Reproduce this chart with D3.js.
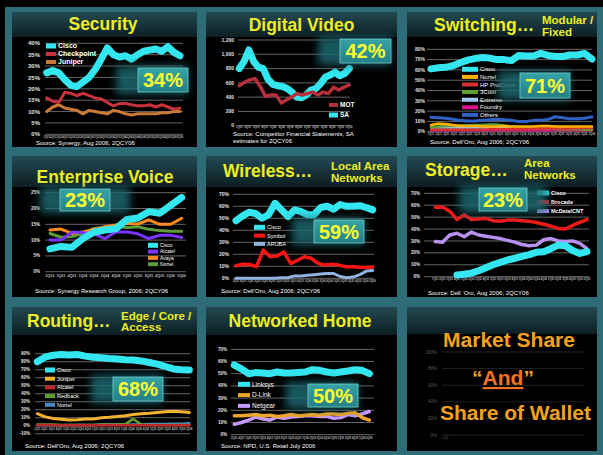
<!DOCTYPE html>
<html lang="en">
<head>
<meta charset="utf-8">
<title>Market share dashboard</title>
<script src="https://d3js.org/d3.v7.min.js"></script>
<style>
  body { margin: 0; background: #000; }
  svg { display: block; font-family: "Liberation Sans", Arial, sans-serif; }
</style>
</head>
<body>
<script>
// ---------- data ----------
var quarters = ["1Q01","2Q01","3Q01","4Q01","1Q02","2Q02","3Q02","4Q02","1Q03","2Q03","3Q03","4Q03",
                "1Q04","2Q04","3Q04","4Q04","1Q05","2Q05","3Q05","4Q05","1Q06","2Q06"]
var voiceQuarters = ["2Q03","3Q03","4Q03","1Q04","2Q04","3Q04","4Q04","1Q05","2Q05","3Q05","4Q05","1Q06","2Q06"]
var pctTicks70 = [0, 10, 20, 30, 40, 50, 60, 70]

// Security
var secCisco = [27, 28, 27, 24, 21.5, 21, 23, 25, 28.5, 33, 38, 35, 34, 34.5, 33, 35, 36.5, 37, 37.5, 36.5, 38.5, 36, 34.5]
var secCheckpoint = [16, 14.5, 14, 18.5, 18, 17, 18, 17, 16, 15.5, 14, 12.5, 13.5, 13.5, 13, 12.5, 12.5, 13, 12, 13, 12, 11, 11.5]
var secJuniper = [10, 12, 13, 11.5, 11, 10.5, 9, 10.5, 10, 9.5, 9, 10.5, 10, 9, 8.5, 9, 9, 9, 9, 9.5, 9.5, 10, 10]

// Digital Video (units)
var dvSA = [800, 900, 1060, 900, 820, 800, 650, 580, 560, 550, 520, 470, 400, 390, 430, 500, 520, 590, 680, 710, 750, 700, 730, 800]
var dvMOT = [560, 610, 640, 660, 550, 410, 430, 430, 320, 360, 400, 450, 430, 450, 470, 430, 470, 450, 540, 500, 540, 570]

// Switching
var swCisco = [61, 62, 62.5, 64, 67, 69.5, 71, 72, 71.5, 70, 70, 69, 74, 73.5, 73.5, 76, 74, 73, 73, 74.5, 74.5, 76, 70.5]
var swNortel = [6.5, 8, 7.5, 6.5, 5.5, 5.5, 5.5, 5, 5, 5, 5.5, 5, 5, 5, 5, 5.5, 5.5, 5, 5, 5, 5, 5, 5]
var swHP = [2, 2, 2, 2, 2, 2, 2, 2, 2.5, 2.5, 2.5, 2.5, 2.5, 2.5, 3, 3, 3, 3, 3, 3, 3.5, 3.5, 3.5]
var sw3Com = [4.5, 5, 5.5, 5.5, 6, 6, 6.5, 6.5, 7, 7, 6, 5, 4, 3.5, 3.5, 3, 3, 2.5, 2.5, 2.5, 2.5, 2, 2]
var swExtreme = [4, 4, 4, 4, 4, 4, 4, 4, 3.5, 3.5, 3.5, 3.5, 3.5, 3.5, 3.5, 3.5, 3, 3, 3, 3, 3, 3, 3]
var swFoundry = [1.5, 1.5, 1.5, 1.5, 1.5, 1.5, 1.5, 1.5, 1.5, 1.5, 1.5, 1.5, 1.5, 1.5, 1.5, 1.5, 1.5, 1.5, 1.5, 1.5, 1.5, 1.5, 1.5]
var swOthers = [14, 13.5, 13, 12, 11, 10.5, 10.5, 11, 11.5, 12, 11.5, 11, 10, 10, 11, 11, 12, 14.5, 13.5, 12.5, 12.5, 13, 14.5]

// Enterprise Voice
var evCisco = [7.2, 8, 7.7, 10.5, 12.5, 13.2, 13.6, 16.5, 17, 19, 18.5, 21, 23.5]
var evAlcatel = [10, 10, 12.6, 12.3, 12, 10.5, 12.6, 12.6, 12, 10.5, 11.5, 11.5, 10.8]
var evAvaya = [13.2, 13.5, 12.1, 12.6, 13.4, 14.2, 14.8, 15.3, 15.1, 16.4, 15, 15, 16.9]
var evNortel = [12.1, 10.9, 11.1, 12.1, 13.7, 14, 14.2, 14, 14.2, 13.4, 13, 12.8, 12.8]

// Wireless LAN
var wlCisco = [48, 52, 55, 54, 50, 53, 62.5, 57, 51.5, 57, 55.5, 53, 53, 59, 60, 57.5, 61.5, 60, 60, 60.5, 59, 57]
var wlSymbol = [10.5, 11.7, 11.5, 9.7, 23.6, 18, 18.5, 22, 12.5, 15, 18, 16.7, 12.5, 11, 11.7, 11, 9.7, 9.7, 9.2, 9, 9.5]
var wlAruba = [0, 0, 0, 0, 0, 0, 0, 0.5, 0.5, 2, 2, 2.5, 3, 3.5, 4, 4, 1.5, 0.5, 1, 3, 6, 6.5]

// Storage Area Networks
var sanCisco = [null, null, null, 1.5, 2, 3, 5, 7.5, 10, 12, 14, 15.5, 17, 18.5, 20.5, 21, 23.5, 26.5, 26, 22, 19.5, 21]
var sanBrocade = [58.2, 58.5, 55, 48, 52, 48, 48.5, 49, 47, 46.5, 47.5, 47.5, 47, 46.5, 45.5, 44, 42.5, 40.5, 40, 43, 45.5, 48]
var sanMcData = [29.5, 29, 35, 36.5, 33.5, 37.5, 35, 34, 33, 32, 30.5, 29, 27, 26, 26.5, 31, 32, 30, 29.5, 30, 28, 23.5]

// Routing
var rtCisco = [80, 86, 88, 89, 88.5, 89, 87, 85.5, 85, 84, 83.5, 82.5, 82, 81, 79, 77, 74, 71, 70, 69.5]
var rtJuniper = [15, 11, 9, 8, 7, 7.5, 8.5, 8.5, 10, 10.5, 11.5, 12.5, 14, 15, 15.5, 16.5, 17.5, 18, 17.5, 16.5]
var rtAlcatel = [1, 1, 0.5, 0.5, 0.5, 0.5, 0.5, 0.5, 0.5, 0.5, 0.5, 0.5, 0.5, 0.5, 0.5, 0.5, 0.5, 0.5, 0.5, 0.5]
var rtRedback = [1.5, 1.5, 1.5, 1, 1, 1, 1, 1, 1.5, 1.5, 1.5, 2, 8.5, 1.5, 1, 1, 1, 1, 1, 1]
var rtNortel = [0.5, 0.5, 0.5, 0.5, 1, 1, 1, 1, 1.5, 1.5, 1.5, 1.5, 1.5, 1.5, 2, 2, 2, 2.5, 2.5, 3]

// Networked Home
var nhLinksys = [57, 54, 50, 50.9, 50.6, 50, 51.4, 50.6, 50.6, 51, 51.4, 53.3, 52.8, 51.4, 50.6, 51.4, 52.2, 53.3, 52.8, 50]
var nhDLink = [15.5, 15.5, 16, 16.5, 15.5, 16, 15, 15.5, 16.5, 15.5, 16, 16.5, 16, 17, 17, 16.5, 17.5, 18, 14, 12]
var nhNetgear = [8.5, 10, 12, 14.5, 13, 12, 14.5, 13.5, 14.5, 15, 15.5, 15.5, 15, 15, 13.5, 14, 16.5, 15.5, 17, 19]

// ---------- colours ----------
var cyan = "#33e6ef"
var teal = "#2e6c78"
var yellow = "#eeee22"

var w = 603, h = 455
var svg = d3.select("body").append("svg").attr("width", w).attr("height", h)

var defs = svg.append("defs")
var hg = defs.append("linearGradient").attr("id", "hdr").attr("x1", 0).attr("y1", 0).attr("x2", 0).attr("y2", 1)
hg.append("stop").attr("offset", "0%").attr("stop-color", "#244a52")
hg.append("stop").attr("offset", "100%").attr("stop-color", "#0c1e23")
var cg = defs.append("linearGradient").attr("id", "call").attr("x1", 0).attr("y1", 0).attr("x2", 0).attr("y2", 1)
cg.append("stop").attr("offset", "0%").attr("stop-color", "#36a3a6")
cg.append("stop").attr("offset", "100%").attr("stop-color", "#237f85")
defs.append("filter").attr("id", "blur").attr("x", "-50%").attr("y", "-50%").attr("width", "200%").attr("height", "200%")
  .append("feGaussianBlur").attr("stdDeviation", 4)

// frame
svg.append("rect").attr("width", w).attr("height", h).attr("fill", "#000")
svg.append("rect").attr("x", 5).attr("y", 7).attr("width", w - 5).attr("height", h - 7).attr("fill", teal)

var pct = function(d){ return d + "%" }

var panels = [
  { box: [12, 12, 185, 135], head: 25,
    title: "Security", titleX: 103, titleY: 30, anchor: "middle",
    ticks: [0, 5, 10, 15, 20, 25, 30, 35, 40], fmt: pct, tickSize: 6, yTop: 43.3, yBot: 134.3,
    tickX: 40, gridX: [45, 183], seriesX: [46.7, 180], xLabels: quarters, xLabY: 137.5,
    series: [
      { name: "Cisco", values: secCisco, color: cyan, sw: 7 },
      { name: "Checkpoint", values: secCheckpoint, color: "#c8323c", sw: 3 },
      { name: "Juniper", values: secJuniper, color: "#c87a36", sw: 3 }],
    legend: { x: 46, y: 46, dy: 8, size: 7, bold: true, w: 10 },
    callout: { x: 138, y: 68, w: 50, h: 24, text: "34%", glow: "left" },
    source: ["Source: Synergy, Aug 2006, 2QCY06"], srcX: 36, srcY: 145 },

  { box: [206, 12, 191, 135], head: 25,
    title: "Digital Video", titleX: 301.5, titleY: 30.5, anchor: "middle",
    ticks: [0, 200, 400, 600, 800, 1000, 1200], fmt: d3.format(","), tickSize: 5, yTop: 40, yBot: 125.7,
    tickX: 234, gridX: [238, 350], seriesX: [239.3, 349.3], xLabels: quarters.slice(8), xLabY: 128,
    series: [
      { name: "MOT", values: dvMOT, color: "#b5303a", sw: 3.5 },
      { name: "SA", values: dvSA, color: cyan, sw: 7 }],
    legend: { x: 329, y: 105, dy: 10, size: 6.5, bold: true, w: 9 },
    callout: { x: 340, y: 39, w: 51, h: 24, text: "42%", glow: "left" },
    source: ["Source: Competitor Financial Statements, SA", "estimates for 2QCY06"], srcX: 233, srcY: 136 },

  { box: [407, 12, 190, 135], head: 25,
    title: "Switching\u2026", titleX: 434, titleY: 31, anchor: "start",
    sub: ["Modular /", "Fixed"], subX: 542, subY: [24, 35.5],
    ticks: [0, 10, 20, 30, 40, 50, 60, 70, 80], fmt: pct, tickSize: 5, yTop: 49.3, yBot: 131.7,
    tickX: 425, gridX: [427, 592], seriesX: [431, 592], xLabels: quarters, xLabY: 134.8,
    series: [
      { name: "Cisco", values: swCisco, color: cyan, sw: 7 },
      { name: "Nortel", values: swNortel, color: "#ffb000", sw: 2.5 },
      { name: "HP ProCurve", values: swHP, color: "#d83030", sw: 2.5 },
      { name: "3Com", values: sw3Com, color: "#5f9e2f", sw: 2.5 },
      { name: "Extreme", values: swExtreme, color: "#9fc8ea", sw: 2.5 },
      { name: "Foundry", values: swFoundry, color: "#e0108a", sw: 2.5 },
      { name: "Others", values: swOthers, color: "#2f62c4", sw: 3 }],
    legend: { x: 462, y: 69.3, dy: 7.6, size: 6, bold: false, w: 16 },
    callout: { x: 520, y: 73, w: 50, h: 25, text: "71%", glow: "left" },
    source: ["Source: Dell\u2019Oro, Aug 2006; 2QCY06"], srcX: 430, srcY: 144 },

  { box: [12, 156, 185, 141], head: 31,
    title: "Enterprise Voice", titleX: 105, titleY: 182.7, anchor: "middle",
    ticks: [0, 5, 10, 15, 20, 25], fmt: pct, tickSize: 4.5, yTop: 192.7, yBot: 271.7,
    tickX: 40, gridX: [45, 186], seriesX: [50, 181.7], xLabels: voiceQuarters, xLabY: 277, xLabSize: 3.6,
    series: [
      { name: "Cisco", values: evCisco, color: cyan, sw: 7 },
      { name: "Alcatel", values: evAlcatel, color: "#7b33ff", sw: 3 },
      { name: "Avaya", values: evAvaya, color: "#ff8a1e", sw: 3 },
      { name: "Nortel", values: evNortel, color: "#5d9a3a", sw: 3 }],
    legend: { x: 148, y: 245.3, dy: 6.3, size: 5, bold: false, w: 10 },
    callout: { x: 60, y: 189, w: 50, h: 22, text: "23%", glow: "both" },
    source: ["Source: Synergy Research Group, 2006; 2QCY06"], srcX: 35, srcY: 293 },

  { box: [206, 156, 191, 141], head: 31,
    title: "Wireless\u2026", titleX: 223, titleY: 177, anchor: "start",
    sub: ["Local Area", "Networks"], subX: 331, subY: [170, 181.5],
    ticks: pctTicks70, fmt: pct, tickSize: 5, yTop: 194.3, yBot: 278.3,
    tickX: 229, gridX: [233, 374], seriesX: [236, 372.7], xLabels: quarters.slice(2), xLabY: 282,
    series: [
      { name: "Cisco", values: wlCisco, color: cyan, sw: 7 },
      { name: "Symbol", values: wlSymbol, color: "#ff1414", sw: 3.5 },
      { name: "ARUBA", values: wlAruba, color: "#8fb4e0", sw: 3 }],
    legend: { x: 254, y: 227.3, dy: 8.3, size: 5.5, bold: false, w: 11 },
    callout: { x: 314, y: 220, w: 50, h: 23, text: "59%", glow: "left" },
    source: ["Source: Dell\u2019Oro, Aug 2006; 2QCY06"], srcX: 221, srcY: 293 },

  { box: [407, 156, 190, 141], head: 31,
    title: "Storage\u2026", titleX: 425, titleY: 176, anchor: "start",
    sub: ["Area", "Networks"], subX: 524, subY: [167, 178.5],
    ticks: pctTicks70, fmt: pct, tickSize: 4.5, yTop: 193.3, yBot: 276.7,
    tickX: 420, gridX: [424, 589], seriesX: [435.3, 587], xLabels: quarters, xLabY: 280,
    series: [
      { name: "Cisco", values: sanCisco, color: cyan, sw: 7 },
      { name: "Brocade", values: sanBrocade, color: "#ee1a1a", sw: 3.5 },
      { name: "McData/CNT", values: sanMcData, color: "#b890f0", sw: 3.5 }],
    legend: { x: 537, y: 193, dy: 9, size: 5.5, bold: true, w: 12 },
    callout: { x: 479, y: 188, w: 48, h: 23, text: "23%", glow: "both" },
    source: ["Source: Dell \u2018Oro, Aug 2006; 2QCY06"], srcX: 428, srcY: 295 },

  { box: [12, 307, 185, 144], head: 28,
    title: "Routing\u2026", titleX: 27, titleY: 327, anchor: "start",
    sub: ["Edge / Core /", "Access"], subX: 121, subY: [319.5, 331],
    ticks: [-10, 0, 10, 20, 30, 40, 50, 60, 70, 80, 90], fmt: pct, tickSize: 4.5, yTop: 353.7, yBot: 433.7,
    tickX: 30, gridX: [35, 190], seriesX: [37.3, 189.3], xLabels: quarters, xLabY: 429.5,
    series: [
      { name: "Cisco", values: rtCisco, color: cyan, sw: 7 },
      { name: "Juniper", values: rtJuniper, color: "#f2b230", sw: 3 },
      { name: "Alcatel", values: rtAlcatel, color: "#c02828", sw: 2.5 },
      { name: "Redback", values: rtRedback, color: "#5f9e2f", sw: 2.5 },
      { name: "Nortel", values: rtNortel, color: "#4a88c8", sw: 2.5 }],
    legend: { x: 45, y: 370, dy: 8.7, size: 5.5, bold: false, w: 10 },
    callout: { x: 113, y: 377, w: 50, h: 24, text: "68%", glow: "left" },
    source: ["Source: Dell\u2019Oro, Aug 2006; 2QCY06"], srcX: 25, srcY: 448 },

  { box: [206, 307, 191, 144], head: 28,
    title: "Networked Home", titleX: 300, titleY: 327, anchor: "middle",
    ticks: pctTicks70, fmt: pct, tickSize: 4.5, yTop: 349.3, yBot: 434.7,
    tickX: 227, gridX: [231, 374], seriesX: [234.3, 369.3], xLabels: quarters.slice(2), xLabY: 438.5,
    series: [
      { name: "Linksys", values: nhLinksys, color: cyan, sw: 7 },
      { name: "D-Link", values: nhDLink, color: "#eea62a", sw: 3.5 },
      { name: "Netgear", values: nhNetgear, color: "#c49aff", sw: 3.5 }],
    legend: { x: 238, y: 384.3, dy: 10.8, size: 6.5, bold: false, w: 12 },
    callout: { x: 308, y: 384, w: 50, h: 23, text: "50%", glow: "left" },
    source: ["Source: NPD, U.S. Retail July 2006"], srcX: 221, srcY: 448 }
]

panels.forEach(function(p){
  var g = svg.append("g")
  var bx = p.box[0], by = p.box[1], bw = p.box[2], bh = p.box[3]

  g.append("rect").attr("x", bx).attr("y", by).attr("width", bw).attr("height", bh).attr("fill", "#000")
  g.append("rect").attr("x", bx).attr("y", by).attr("width", bw).attr("height", p.head).attr("fill", "url(#hdr)")

  // title
  g.append("text").attr("x", p.titleX).attr("y", p.titleY).attr("text-anchor", p.anchor)
    .attr("font-size", 17.5).attr("font-weight", "bold").attr("fill", yellow).text(p.title)
  if (p.sub) {
    p.sub.forEach(function(s, i){
      g.append("text").attr("x", p.subX).attr("y", p.subY[i])
        .attr("font-size", 11.5).attr("font-weight", "bold").attr("fill", yellow).text(s)
    })
  }

  var y = d3.scaleLinear().domain(d3.extent(p.ticks)).range([p.yBot, p.yTop])

  // gridlines + tick labels
  g.selectAll(".grid").data(p.ticks).enter().append("line")
    .attr("x1", p.gridX[0]).attr("x2", p.gridX[1])
    .attr("y1", function(d){ return y(d) }).attr("y2", function(d){ return y(d) })
    .attr("stroke", "#7d7d7d").attr("stroke-width", 0.8)
  g.selectAll(".tl").data(p.ticks).enter().append("text")
    .attr("x", p.tickX).attr("y", function(d){ return y(d) }).attr("dy", "0.35em")
    .attr("text-anchor", "end").attr("font-size", p.tickSize).attr("font-weight", "bold")
    .attr("fill", "#e0e0e0").text(p.fmt)

  // tiny category labels
  var xl = d3.scalePoint().domain(p.xLabels).range(p.seriesX)
  g.selectAll(".xl").data(p.xLabels).enter().append("text")
    .attr("x", function(d){ return xl(d) }).attr("y", p.xLabY)
    .attr("text-anchor", "middle").attr("font-size", p.xLabSize || 2.6).attr("font-weight", "bold")
    .attr("fill", "#bbbbbb").text(function(d){ return d })

  // lines: draw last series first so the first one sits on top
  p.series.slice().reverse().forEach(function(s){
    var x = d3.scaleLinear().domain([0, s.values.length - 1]).range(p.seriesX)
    var line = d3.line()
      .defined(function(d){ return d != null })
      .x(function(d, i){ return x(i) })
      .y(function(d){ return y(d) })
    g.append("path").datum(s.values).attr("d", line)
      .attr("fill", "none").attr("stroke", s.color).attr("stroke-width", s.sw)
      .attr("stroke-linejoin", "round").attr("stroke-linecap", "round")
  })

  // legend
  var L = p.legend
  p.series.forEach(function(s, i){
    var ly = L.y + i * L.dy
    var sh = s.sw >= 6 ? 5 : 4
    g.append("rect").attr("x", L.x).attr("y", ly - sh / 2).attr("width", L.w).attr("height", sh).attr("fill", s.color)
    g.append("text").attr("x", L.x + L.w + 2).attr("y", ly).attr("dy", "0.35em")
      .attr("font-size", L.size).attr("font-weight", L.bold ? "bold" : "normal")
      .attr("fill", "#ffffff").text(s.name)
  })

  // callout
  var c = p.callout
  var gx = c.glow === "both" ? c.x - 20 : c.x - 22
  var gw = c.glow === "both" ? c.w + 40 : c.w + 22
  g.append("rect").attr("x", gx).attr("y", c.y - 2).attr("width", gw).attr("height", c.h + 4)
    .attr("fill", "#1f6870").attr("opacity", 0.85).attr("filter", "url(#blur)")
  g.append("rect").attr("x", c.x).attr("y", c.y).attr("width", c.w).attr("height", c.h)
    .attr("fill", "url(#call)").attr("stroke", "#6fd0d0").attr("stroke-width", 0.8)
  g.append("text").attr("x", c.x + c.w / 2).attr("y", c.y + c.h / 2).attr("dy", "0.36em")
    .attr("text-anchor", "middle").attr("font-size", 20).attr("font-weight", "bold")
    .attr("fill", "#ffff30").text(c.text)

  // source
  p.source.forEach(function(s, i){
    g.append("text").attr("x", p.srcX).attr("y", p.srcY + i * 7)
      .attr("font-size", 6).attr("fill", "#ffffff").text(s)
  })
})

// ---------- last panel: text over a faint empty chart ----------
var ghostTicks = [0, 20, 40, 60, 80, 100]
var msBox = [407, 307, 190, 144]
var gm = svg.append("g")
gm.append("rect").attr("x", msBox[0]).attr("y", msBox[1]).attr("width", msBox[2]).attr("height", msBox[3]).attr("fill", "#000")
gm.append("rect").attr("x", msBox[0]).attr("y", msBox[1]).attr("width", msBox[2]).attr("height", 27).attr("fill", "url(#hdr)")
var gy = d3.scaleLinear().domain([0, 100]).range([435, 352])
gm.selectAll(".gg").data(ghostTicks).enter().append("line")
  .attr("x1", 442).attr("x2", 584)
  .attr("y1", function(d){ return gy(d) }).attr("y2", function(d){ return gy(d) })
  .attr("stroke", "#2c2c2c").attr("stroke-width", 0.8)
gm.selectAll(".gl").data(ghostTicks).enter().append("text")
  .attr("x", 437).attr("y", function(d){ return gy(d) }).attr("dy", "0.35em")
  .attr("text-anchor", "end").attr("font-size", 4.5).attr("fill", "#5a5a5a").text(pct)
gm.append("text").attr("x", 442).attr("y", 439).attr("font-size", 2.6).attr("fill", "#555").text("1Q06")

var orange = "#f2a21e"
gm.append("text").attr("x", 509).attr("y", 347).attr("text-anchor", "middle")
  .attr("font-size", 21).attr("font-weight", "bold").attr("fill", orange).text("Market Share")
var andT = gm.append("text").attr("x", 503).attr("y", 385).attr("text-anchor", "middle")
  .attr("font-size", 21).attr("font-weight", "bold").attr("fill", orange)
andT.append("tspan").text("\u201C")
andT.append("tspan").attr("fill", "#f47420").style("text-decoration", "underline").text("And")
andT.append("tspan").text("\u201D")
gm.append("text").attr("x", 440).attr("y", 420)
  .attr("font-size", 21).attr("font-weight", "bold").attr("fill", orange).text("Share of Wallet")
</script>
</body>
</html>
